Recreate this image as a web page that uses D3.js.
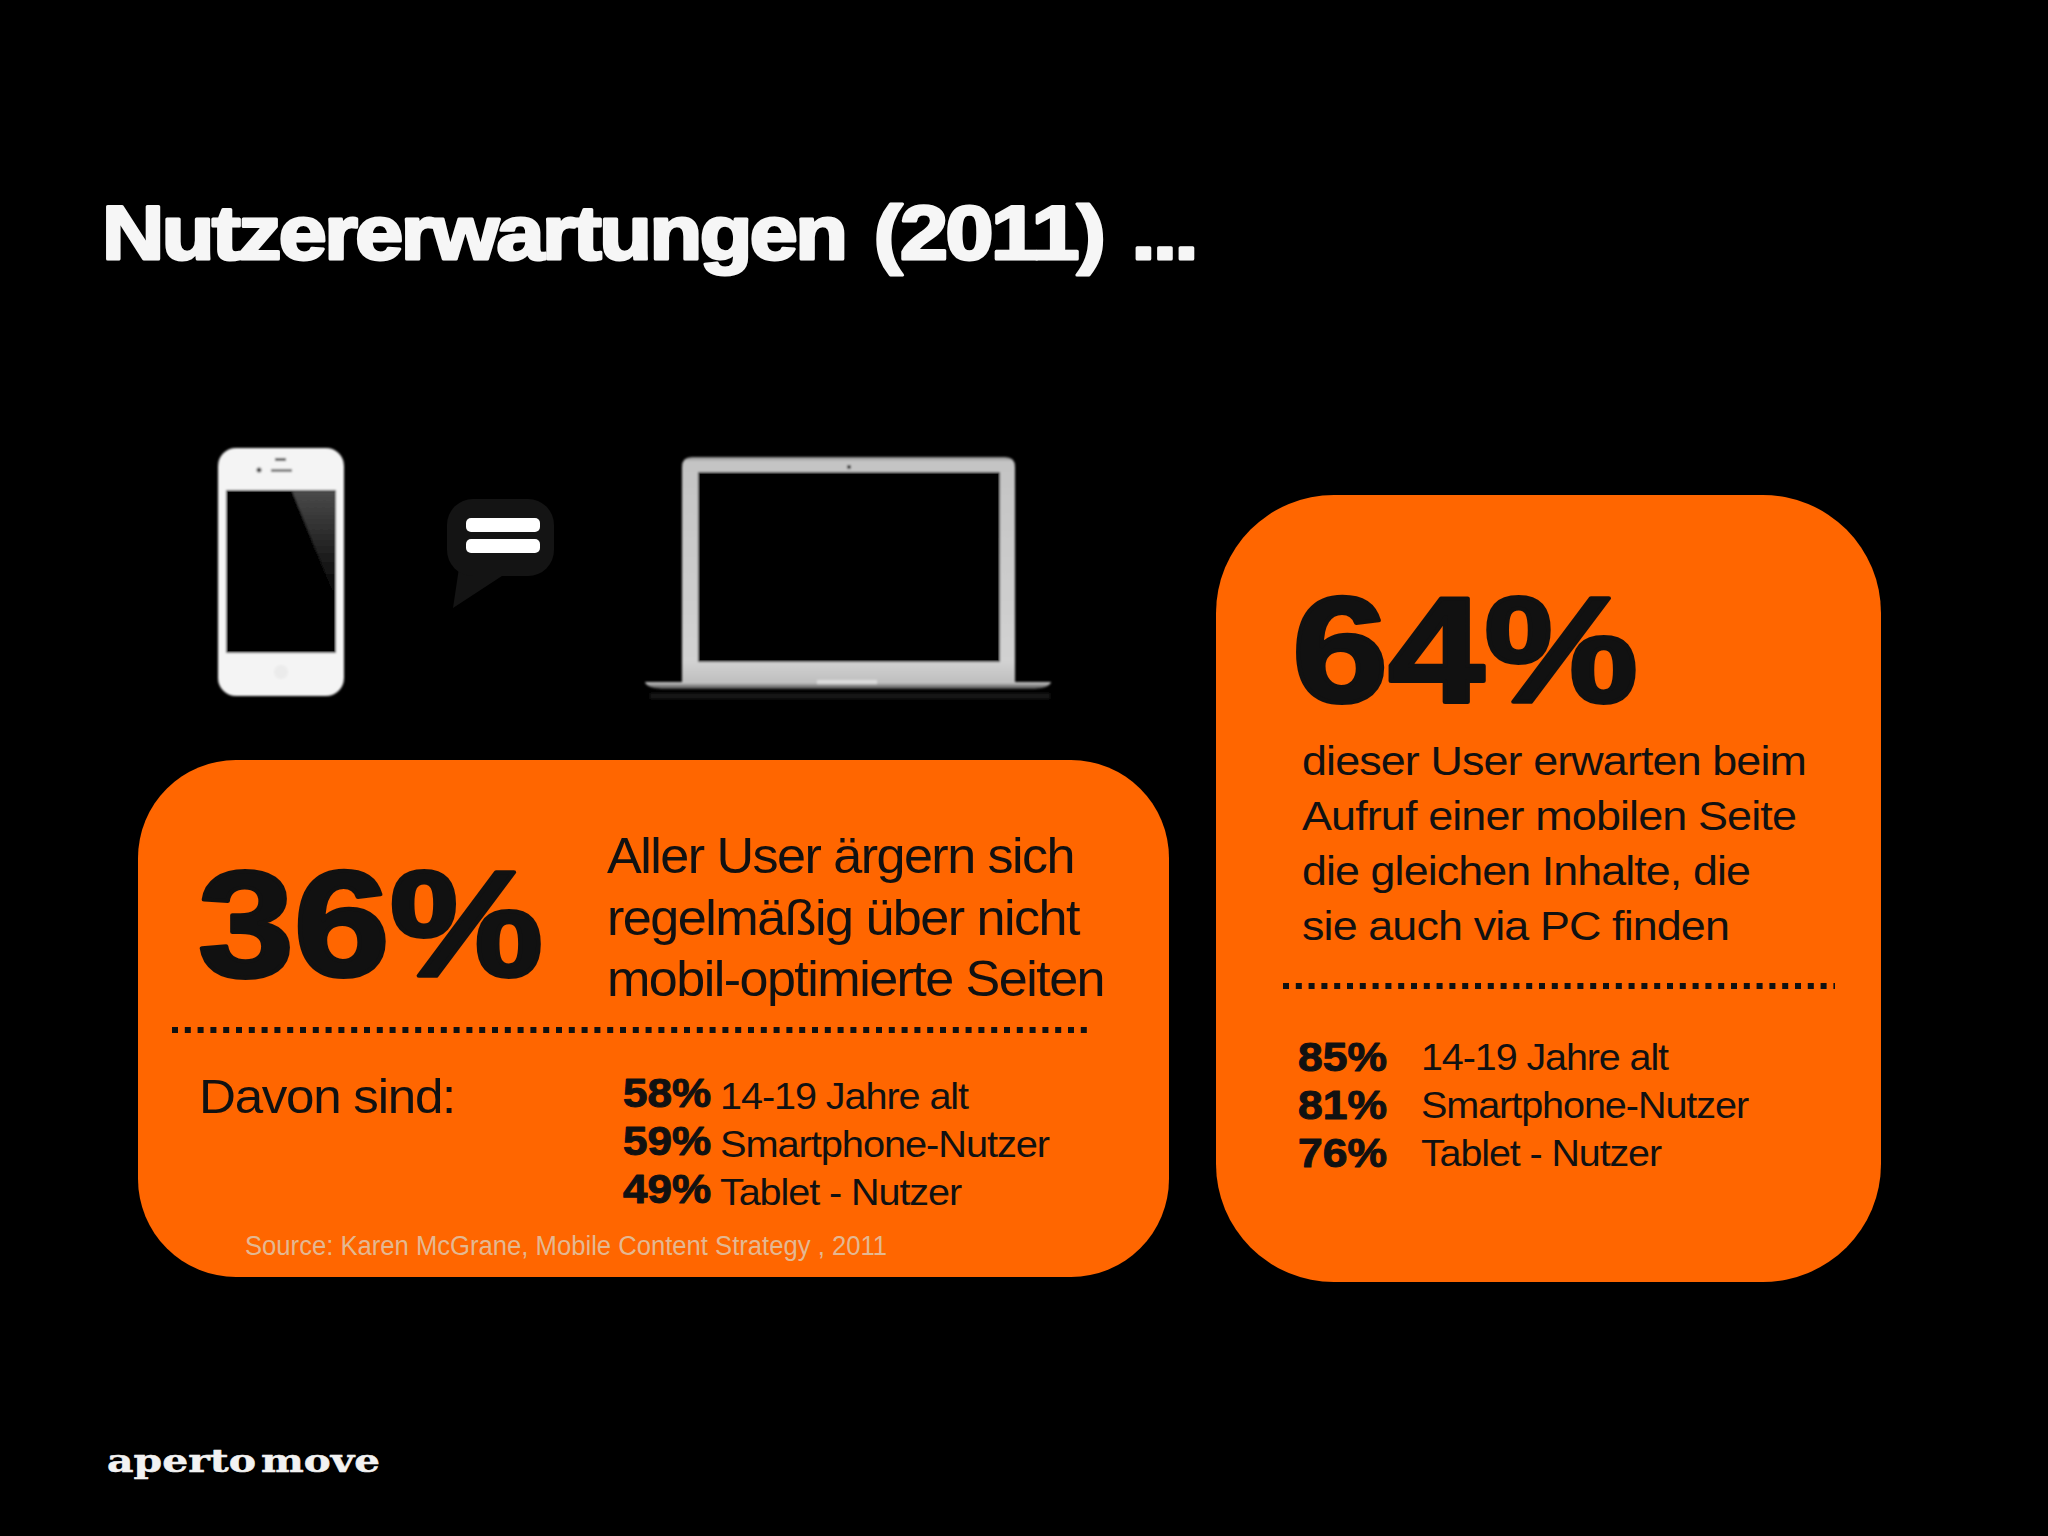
<!DOCTYPE html>
<html><head><meta charset="utf-8">
<script src="https://cdn.jsdelivr.net/npm/d3@7/dist/d3.min.js"></script>
<style>html,body{margin:0;padding:0;background:#000}svg{display:block}text{font-family:"Liberation Sans",Arial,sans-serif}</style>
</head><body><svg id="c" width="2048" height="1536"></svg>
<script>
const titleText = "Nutzererwartungen (2011) ...";
const leftHeadline = 36;
const rightHeadline = 64;
const leftBody = ["Aller User ärgern sich","regelmäßig über nicht","mobil-optimierte Seiten"];
const rightBody = ["dieser User erwarten beim","Aufruf einer mobilen Seite","die gleichen Inhalte, die","sie auch via PC finden"];
const categories = ["14-19 Jahre alt","Smartphone-Nutzer","Tablet - Nutzer"];
const rightCategories = ["14-19 Jahre alt","Smartphone-Nutzer","Tablet - Nutzer"];
const leftValues = [58,59,49];
const rightValues = [85,81,76];
const davon = "Davon sind:";
const sourceText = "Source: Karen McGrane, Mobile Content Strategy , 2011";
const logoParts = ["aperto","move"];
const ORANGE="#ff6600", INK="#111111";

const svg=d3.select("#c");
svg.append("rect").attr("width",2048).attr("height",1536).attr("fill","#000");
const defs=svg.append("defs");
defs.append("filter").attr("id","soft").append("feGaussianBlur").attr("stdDeviation",1.1);
const g1=defs.append("linearGradient").attr("id","glare").attr("x1",0).attr("y1",0).attr("x2",0).attr("y2",1);
g1.append("stop").attr("offset",0).attr("stop-color","#4a4a4a");
g1.append("stop").attr("offset",1).attr("stop-color","#000");
const g2=defs.append("linearGradient").attr("id","lid").attr("x1",0).attr("y1",0).attr("x2",0).attr("y2",1);
g2.append("stop").attr("offset",0).attr("stop-color","#8e8e8e");
g2.append("stop").attr("offset",0.02).attr("stop-color","#c4c4c4");
g2.append("stop").attr("offset",0.9).attr("stop-color","#d2d2d2");
g2.append("stop").attr("offset",1).attr("stop-color","#bdbdbd");
const g3=defs.append("linearGradient").attr("id","base").attr("x1",0).attr("y1",0).attr("x2",0).attr("y2",1);
g3.append("stop").attr("offset",0).attr("stop-color","#cfcfcf");
g3.append("stop").attr("offset",1).attr("stop-color","#444");

function fit(parent,str,x,y,w,size,o={}){
  const t=parent.append("text").attr("x",x).attr("y",y).attr("font-size",size)
    .attr("fill",o.fill||INK).attr("font-weight",o.bold?"bold":"normal").text(str);
  if(o.family)t.style("font-family",o.family);
  if(o.ls)t.style("letter-spacing",o.ls+"px");
  if(o.ws)t.style("word-spacing",o.ws+"px");
  if(o.stroke)t.attr("stroke",o.fill||INK).attr("stroke-width",o.stroke).attr("stroke-linejoin","round");
  t.attr("textLength",w).attr("lengthAdjust","spacingAndGlyphs");
  return t;
}

// Title
fit(svg,titleText,102,259,1094,76,{bold:true,fill:"#f6f6f6",stroke:3,ls:-2.2,ws:6});

// Phone
const ph=svg.append("g").attr("filter","url(#soft)");
ph.append("rect").attr("x",218).attr("y",448).attr("width",126).attr("height",248).attr("rx",18).attr("fill","#f4f4f4");
ph.append("rect").attr("x",226).attr("y",490).attr("width",110).attr("height",163).attr("fill","#000");
ph.append("path").attr("d",d3.line()([[292,491],[336,491],[336,600]])).attr("fill","url(#glare)");
ph.append("rect").attr("x",275).attr("y",458).attr("width",11).attr("height",3).attr("fill","#555");
ph.append("rect").attr("x",271).attr("y",469).attr("width",21).attr("height",3).attr("fill","#777");
ph.append("circle").attr("cx",259).attr("cy",470).attr("r",2.5).attr("fill","#444");
ph.append("circle").attr("cx",281).attr("cy",672).attr("r",7).attr("fill","#ebebeb");

// Speech bubble
const bb=svg.append("g");
bb.append("path").attr("d",d3.line()([[459,568],[453,608],[505,574]])).attr("fill","#141414");
bb.append("rect").attr("x",447).attr("y",499).attr("width",107).attr("height",77).attr("rx",26).attr("fill","#141414");
bb.selectAll(".eq").data([518,539]).join("rect").attr("x",466).attr("y",d=>d).attr("width",74).attr("height",14).attr("rx",5).attr("fill","#fff");

// Laptop
const lp=svg.append("g").attr("filter","url(#soft)");
lp.append("rect").attr("x",650).attr("y",693).attr("width",400).attr("height",6).attr("fill","#161616");
lp.append("path").attr("d","M682 684V467q0-10 10-10H1005q10 0 10 10V684Z").attr("fill","url(#lid)");
lp.append("rect").attr("x",698).attr("y",472).attr("width",302).attr("height",190).attr("fill","#000");
lp.append("path").attr("d","M645 682H1051Q1049 689 1030 689H666Q647 689 645 682Z").attr("fill","url(#base)");
lp.append("rect").attr("x",817).attr("y",680).attr("width",60).attr("height",4).attr("fill","#dcdcdc");
lp.append("circle").attr("cx",849).attr("cy",467).attr("r",2).attr("fill","#222");

// Panels
svg.append("rect").attr("x",138).attr("y",760).attr("width",1031).attr("height",517).attr("rx",98).attr("fill",ORANGE);
svg.append("rect").attr("x",1216).attr("y",495).attr("width",665).attr("height",787).attr("rx",118).attr("fill",ORANGE);

// Headlines
fit(svg,leftHeadline+"%",198,976,345,150,{bold:true,stroke:4});
fit(svg,rightHeadline+"%",1292,702,346,150,{bold:true,stroke:4});

// Left body
const lbY=d3.scalePoint().domain(leftBody).range([873,996]);
const lbW=[467,472,497];
leftBody.forEach((s,i)=>fit(svg,s,607,lbY(s),lbW[i],50,{ls:-1.5}));

// Right body
const rbY=d3.scalePoint().domain(rightBody).range([775,940]);
const rbW=[504,494,448,427];
rightBody.forEach((s,i)=>fit(svg,s,1302,rbY(s),rbW[i],41,{ls:-0.8}));

// Dotted dividers
const dot=(x1,x2,y)=>svg.append("line").attr("x1",x1).attr("x2",x2).attr("y1",y).attr("y2",y)
  .attr("stroke",INK).attr("stroke-width",6).attr("stroke-dasharray","6 6.8");
dot(172,1088,1030);
dot(1283,1835,986);

// Left breakdown
fit(svg,davon,199,1113,256,48,{ls:-1.2});
const lrY=d3.scalePoint().domain(categories).range([1109,1205]);
const lW=[248,329,241];
categories.forEach((c,i)=>{
  fit(svg,leftValues[i]+"%",623,lrY(c)-2.5,88,40,{bold:true,stroke:1});
  fit(svg,c,720,lrY(c),lW[i],37,{ls:-1});
});
fit(svg,sourceText,245,1255,642,27,{fill:"#e4b892"});

// Right breakdown
const rrY=d3.scalePoint().domain(rightCategories).range([1070,1166]);
const rW=[247,327,240];
rightCategories.forEach((c,i)=>{
  fit(svg,rightValues[i]+"%",1298,rrY(c)+1,89,40,{bold:true,stroke:1});
  fit(svg,c,1421,rrY(c),rW[i],37,{ls:-1});
});

// Logo
const serif='"DejaVu Serif",serif';
fit(svg,logoParts[0],107,1472,149,31,{bold:true,fill:"#f2f2f2",family:serif,stroke:0.5});
fit(svg,logoParts[1],261,1472,119,31,{bold:true,fill:"#f2f2f2",family:serif,stroke:0.5});
</script></body></html>
